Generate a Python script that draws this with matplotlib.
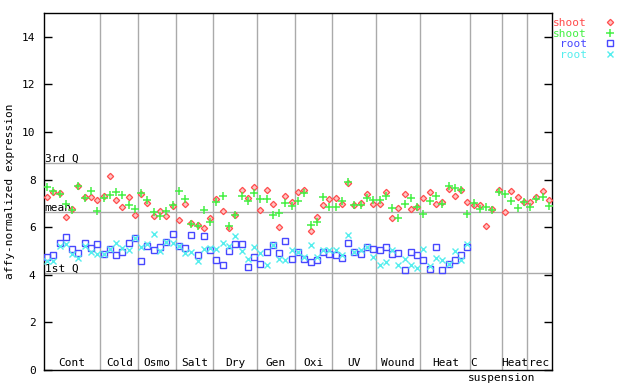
"""Expression scatter by condition: shoot vs root replicates."""
import matplotlib
matplotlib.use("Agg")
import matplotlib.pyplot as plt
from matplotlib.lines import Line2D

plt.rcParams["font.family"] = ["DejaVu Sans Mono"]
plt.rcParams["font.size"] = 8

# shoot replicates, one value per sample slot (81 slots)
shoot_a = [7.28, 7.49, 7.44, 6.43, 6.76, 7.73, 7.28, 7.28, 7.14,
           7.33, 8.14, 7.13, 6.85, 7.27, 6.51,
           7.41, 7.03, 6.47, 6.66, 6.47, 6.89,
           6.31, 6.98, 6.18, 6.08, 5.98, 6.39,
           7.20, 6.67, 5.98, 6.51, 7.56, 7.24, 7.69,
           6.73, 7.56, 6.99, 6.00, 7.31, 7.07,
           7.48, 7.56, 5.85, 6.43, 6.93, 7.19,
           7.23, 6.99, 7.84, 6.93, 7.03, 7.41, 6.98,
           6.98, 7.49, 6.39, 6.81, 7.40, 6.77, 6.85,
           7.23, 7.48, 6.99, 7.06, 7.61, 7.31, 7.56, 7.06,
           6.93, 6.94, 6.05, 6.77, 7.55,
           6.65, 7.52, 7.27, 7.06,
           7.06, 7.27, 7.52, 7.14]
shoot_b = [7.70, 7.52, 7.40, 6.99, 6.74, 7.72, 7.23, 7.54, 6.69,
           7.23, 7.37, 7.49, 7.36, 6.95, 6.77,
           7.44, 7.14, 6.62, 6.47, 6.68, 6.93,
           7.53, 7.20, 6.13, 6.06, 6.72, 6.23,
           7.07, 7.33, 6.05, 6.53, 7.33, 7.12, 7.44,
           7.19, 7.19, 6.52, 6.61, 7.02, 6.90,
           7.11, 7.44, 6.09, 6.23, 7.28, 6.86,
           6.85, 7.10, 7.90, 6.93, 6.93, 7.23, 7.14,
           7.14, 7.31, 6.81, 6.39, 6.98, 7.23, 6.85,
           6.55, 7.10, 7.31, 6.99, 7.73, 7.65, 7.56, 6.55,
           7.02, 6.77, 6.85, 6.72, 7.49,
           7.41, 7.10, 6.81, 7.06,
           6.85, 7.19, 7.27, 6.90]
# root replicates, only slots 1..68 have data
root_a = [4.74, 4.83, 5.33, 5.59, 5.08, 4.91, 5.32, 5.14, 5.30,
          4.87, 5.09, 4.83, 4.97, 5.33, 5.54,
          4.59, 5.21, 5.05, 5.16, 5.38, 5.71,
          5.21, 5.12, 5.67, 4.83, 5.63, 5.04,
          4.62, 4.41, 5.01, 5.29, 5.29, 4.34, 4.74,
          4.45, 4.95, 5.25, 4.91, 5.42, 4.66,
          4.94, 4.66, 4.53, 4.62, 4.95, 4.87,
          4.83, 4.69, 5.33, 4.95, 4.87, 5.16, 5.08,
          5.04, 5.16, 4.87, 4.91, 4.20, 4.95, 4.83,
          4.62, 4.24, 5.16, 4.20, 4.44, 4.62, 4.83, 5.16]
root_b = [4.60, 4.60, 5.22, 5.30, 4.88, 4.72, 5.19, 4.97, 4.86,
          4.88, 5.09, 5.33, 5.12, 5.04, 5.54,
          5.16, 5.30, 5.73, 5.02, 5.38, 5.33,
          5.19, 4.91, 4.95, 4.60, 5.08, 5.12,
          5.08, 5.33, 5.22, 5.64, 4.99, 4.66, 5.16,
          4.91, 4.41, 5.25, 4.66, 4.62, 5.04,
          4.95, 4.74, 5.25, 4.74, 5.04, 5.04,
          5.04, 4.83, 5.67, 4.95, 5.04, 5.16, 4.74,
          4.41, 4.53, 5.04, 4.41, 4.66, 4.41, 4.28,
          5.08, 4.35, 4.70, 4.62, 4.44, 4.99, 4.62, 5.30]

groups = ["Cont", "Cold", "Osmo", "Salt", "Dry", "Gen", "Oxi", "UV",
          "Wound", "Heat", "C", "Heat", "rec"]
group_sizes = [9, 6, 6, 6, 7, 6, 6, 7, 7, 8, 5, 4, 4]
q_values = [8.70, 6.65, 4.08]
q_labels = ["3rd Q", "mean", "1st Q"]

RED, GREEN, BLUE, CYAN = "#ff4c4c", "#44f044", "#4848ff", "#55eeee"
GRID = "#aaaaaa"

n = len(shoot_a)
xs = list(range(1, n + 1))
xr = list(range(1, len(root_a) + 1))

fig = plt.figure(figsize=(6.4, 3.84), dpi=100)
ax = fig.add_axes([44 / 640, 14 / 384, 508 / 640, 357 / 384])

for yv, lab in zip(q_values, q_labels):
    ax.axhline(yv, color=GRID, lw=1, zorder=1)
    ax.text(0.6, yv + 0.05, lab, ha="left", va="baseline", zorder=2)

edges = []
acc = 0
for size in group_sizes[:-1]:
    acc += size
    edges.append(acc + 0.5)
for e in edges:
    ax.axvline(e, color=GRID, lw=1, zorder=1)

start = 0
for name, size in zip(groups, group_sizes):
    centre = start + size / 2 + 0.5
    if name == "C":
        ax.text(start + 1.0, 0.28, name, ha="center", va="center")
    else:
        ax.text(centre, 0.28, name, ha="center", va="center")
    start += size
ax.text(edges[-2], -0.35, "suspension", ha="center", va="center", clip_on=False)

diamond = dict(ls="none", marker="D", ms=3.2, mfc="#ffc4c4", mec=RED, mew=0.9)
plus = dict(ls="none", marker="+", ms=6, color=GREEN, mew=1.1)
square = dict(ls="none", marker="s", ms=4.2, mfc="none", mec=BLUE, mew=1.0)
cross = dict(ls="none", marker="x", ms=4.5, color=CYAN, mew=1.0)

ax.plot(xs, shoot_a, zorder=3, **diamond)
ax.plot(xs, shoot_b, zorder=3, **plus)
ax.plot(xr, root_a, zorder=3, **square)
ax.plot(xr, root_b, zorder=3, **cross)

ax.set_xlim(0.5, n + 0.5)
ax.set_ylim(0, 15)
ax.set_xticks([])
ax.set_yticks(range(0, 15, 2))
ax.tick_params(axis="y", direction="in", length=6, width=1, pad=6,
               left=True, right=True, labelsize=8)
for s in ax.spines.values():
    s.set_color("black")
    s.set_linewidth(1)
ax.set_ylabel("affy-normalized expression", labelpad=5)

handles = [Line2D([], [], **diamond), Line2D([], [], **plus),
           Line2D([], [], **square), Line2D([], [], **cross)]
fig.legend(handles, ["shoot", "shoot", "root", "root"], loc="upper right",
           bbox_to_anchor=(618 / 640, 1 - 18 / 384), frameon=False,
           markerfirst=False, alignment="right", labelcolor=[RED, GREEN, BLUE, CYAN],
           handlelength=1.5, handletextpad=1.3, labelspacing=0.05,
           borderpad=0, borderaxespad=0, fontsize=8)

fig.savefig("out.png", dpi=100)
plt.close(fig)
